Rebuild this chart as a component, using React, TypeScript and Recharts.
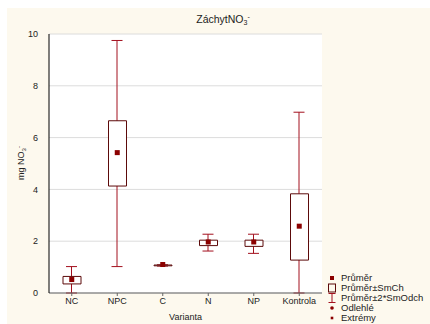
import React from 'react';
import { ComposedChart, Bar, Line, XAxis, YAxis, CartesianGrid } from 'recharts';

const categories = ['NC', 'NPC', 'C', 'N', 'NP', 'Kontrola'];
const means = [0.52, 5.42, 1.1, 1.97, 1.97, 2.58];
const seLow = [0.35, 4.13, 1.05, 1.83, 1.8, 1.27];
const seHigh = [0.64, 6.65, 1.08, 2.04, 2.04, 3.83];
const sdLow = [0, 1.02, 1.04, 1.62, 1.53, 0];
const sdHigh = [1.02, 9.75, 1.09, 2.27, 2.27, 6.98];
const yTicks = [0, 2, 4, 6, 8, 10];

const data = categories.map((name, i) => ({
  name,
  mean: means[i],
  box: [seLow[i], seHigh[i]],
  whisker: [sdLow[i], sdHigh[i]],
}));

const FONT = '"Liberation Sans", Arial, sans-serif';
const BOX = '#5c0a0a';
const WHISKER = '#a3101e';
const MEAN = '#8b0000';

const Whisker = (props: any) => {
  const { x, y, width, height } = props;
  const cx = x + width / 2;
  return (
    <g stroke={WHISKER} strokeWidth={1}>
      <line x1={cx} x2={cx} y1={y} y2={y + height} />
      <line x1={x} x2={x + width} y1={y} y2={y} />
      <line x1={x} x2={x + width} y1={y + height} y2={y + height} />
    </g>
  );
};

const MeanDot = (props: any) => {
  const { cx, cy, index } = props;
  return <rect key={index} x={cx - 2.5} y={cy - 2.5} width={5} height={5} fill={MEAN} />;
};

const YLabel = () => {
  const x = 24;
  const y = 163;
  return (
    <text
      x={x}
      y={y}
      transform={`rotate(-90, ${x}, ${y})`}
      textAnchor="middle"
      fontSize={9}
      fill="#222"
      fontFamily={FONT}
    >
      mg NO<tspan fontSize={6} dy={2}>3</tspan>
      <tspan fontSize={6} dy={-5}>-</tspan>
    </text>
  );
};

const legendItems = ['Průměr', 'Průměr±SmCh', 'Průměr±2*SmOdch', 'Odlehlé', 'Extrémy'];

const LegendMarker = ({ i }: { i: number }) => {
  if (i === 0) return <rect x={3} y={3} width={4} height={4} fill={MEAN} />;
  if (i === 1) return <rect x={1.5} y={1} width={7} height={8} fill="none" stroke={BOX} />;
  if (i === 2)
    return (
      <g stroke={WHISKER}>
        <line x1={1.5} x2={8.5} y1={0.5} y2={0.5} />
        <line x1={5} x2={5} y1={0.5} y2={9.5} />
        <line x1={1.5} x2={8.5} y1={9.5} y2={9.5} />
      </g>
    );
  if (i === 3) return <circle cx={5} cy={5} r={1.8} fill={MEAN} />;
  return <rect x={3.7} y={3.7} width={2.6} height={2.6} fill={MEAN} />;
};

export default function App() {
  return (
    <div style={{ position: 'absolute', left: 0, top: 0, width: 430, height: 324, background: '#fff', overflow: 'hidden' }}>
      <div style={{ position: 'absolute', left: 7, top: 8, right: 0, bottom: 0, background: '#fdf9ee' }} />
      <div
        style={{
          position: 'absolute',
          left: 0,
          width: 446,
          top: 13,
          textAlign: 'center',
          fontFamily: FONT,
          fontSize: 10.5,
          color: '#222',
        }}
      >
        ZáchytNO<sub style={{ fontSize: 7, verticalAlign: -2 }}>3</sub>
        <sup style={{ fontSize: 7, verticalAlign: 4 }}>-</sup>
      </div>
      <div style={{ position: 'absolute', left: 0, top: 0 }}>
        <ComposedChart width={430} height={324} data={data} margin={{ top: 34, right: 108, left: 19, bottom: 0 }}>
          <CartesianGrid horizontal vertical={false} stroke="#dcdcdc" fill="#fff" />
          <XAxis
            dataKey="name"
            height={31}
            interval={0}
            tickSize={3}
            tickMargin={2}
            stroke="#666"
            tick={{ fontSize: 9, fill: '#222', fontFamily: FONT }}
            label={{ value: 'Varianta', position: 'insideBottom', offset: 4, fontSize: 9, fill: '#222', fontFamily: FONT }}
          />
          <XAxis xAxisId="w" dataKey="name" hide />
          <XAxis xAxisId="top" dataKey="name" orientation="top" height={0} tick={false} tickSize={3} stroke="#000" />
          <YAxis
            width={30}
            domain={[0, 10]}
            ticks={yTicks}
            tickLine={false}
            tickMargin={5}
            stroke="#000"
            tick={{ fontSize: 9, fill: '#222', fontFamily: FONT }}
            label={<YLabel />}
          />
          <YAxis
            yAxisId="r"
            orientation="right"
            width={0}
            domain={[0, 10]}
            ticks={yTicks}
            tick={false}
            tickSize={3}
            mirror
            stroke="#000"
          />
          <Bar xAxisId="w" dataKey="whisker" barSize={11} shape={<Whisker />} isAnimationActive={false} />
          <Bar dataKey="box" barSize={18} fill="#fff" stroke={BOX} strokeWidth={1} isAnimationActive={false} />
          <Line dataKey="mean" stroke="none" dot={<MeanDot />} activeDot={false} isAnimationActive={false} />
        </ComposedChart>
      </div>
      <div style={{ position: 'absolute', left: 327, top: 273, fontFamily: FONT, fontSize: 9.5, color: '#222' }}>
        {legendItems.map((t, i) => (
          <div key={t} style={{ display: 'flex', alignItems: 'center', height: 10, lineHeight: '10px', whiteSpace: 'nowrap' }}>
            <svg width={10} height={10} style={{ marginRight: 4, flexShrink: 0 }}>
              <LegendMarker i={i} />
            </svg>
            <span>{t}</span>
          </div>
        ))}
      </div>
    </div>
  );
}
